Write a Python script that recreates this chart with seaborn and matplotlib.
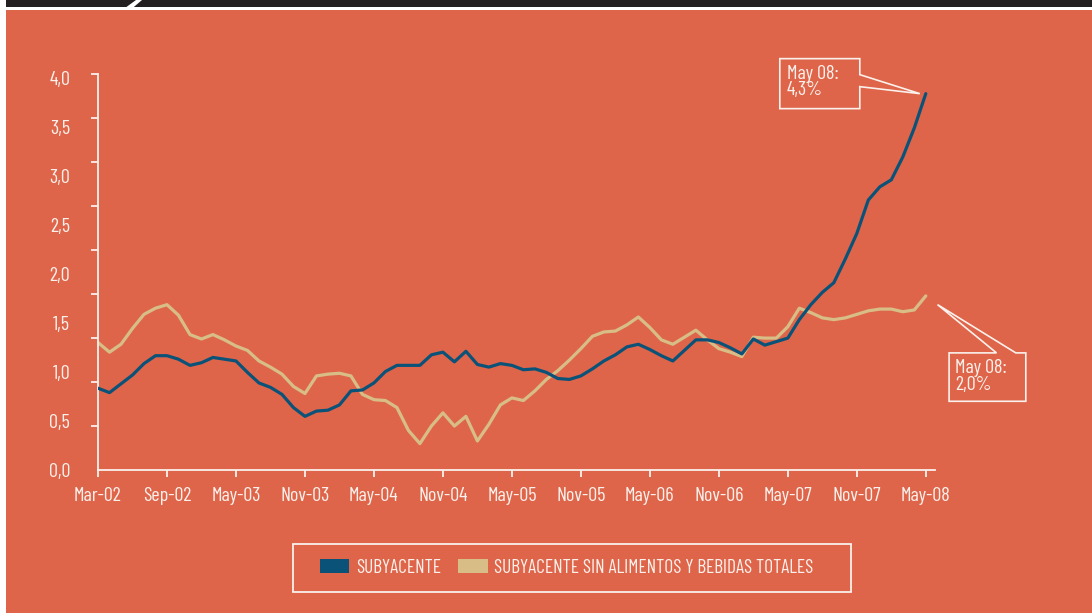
import numpy as np
import pandas as pd
import matplotlib
matplotlib.use("Agg")
import matplotlib.pyplot as plt
import matplotlib.patches as mpatches
import matplotlib.transforms as mtransforms
from matplotlib import font_manager
import seaborn as sns

# ---------------- DATOS (tasa anual %, mensual mar-02 .. may-08) ---------------- #

subyacente = [
    0.93, 0.88, 0.98, 1.08, 1.21, 1.30, 1.30, 1.26, 1.19, 1.22,
    1.28, 1.26, 1.24, 1.11, 0.99, 0.94, 0.86, 0.71, 0.61, 0.67,
    0.68, 0.74, 0.90, 0.91, 0.99, 1.12, 1.19, 1.19, 1.19, 1.31,
    1.34, 1.23, 1.35, 1.20, 1.17, 1.21, 1.19, 1.14, 1.15, 1.11,
    1.04, 1.03, 1.07, 1.15, 1.24, 1.31, 1.40, 1.43, 1.37, 1.30,
    1.24, 1.36, 1.48, 1.48, 1.45, 1.39, 1.32, 1.49, 1.42, 1.46,
    1.50, 1.71, 1.88, 2.02, 2.13, 2.40, 2.69, 3.07, 3.22, 3.30,
    3.56, 3.89, 4.28,
]
subyacente_sin_alim = [
    1.45, 1.34, 1.43, 1.61, 1.77, 1.84, 1.88, 1.76, 1.54, 1.49,
    1.54, 1.48, 1.41, 1.36, 1.24, 1.17, 1.09, 0.95, 0.87, 1.07,
    1.09, 1.10, 1.07, 0.86, 0.80, 0.79, 0.71, 0.45, 0.30, 0.50,
    0.65, 0.50, 0.61, 0.33, 0.52, 0.74, 0.82, 0.79, 0.90, 1.03,
    1.13, 1.25, 1.38, 1.52, 1.57, 1.58, 1.65, 1.74, 1.62, 1.48,
    1.43, 1.51, 1.59, 1.48, 1.38, 1.34, 1.29, 1.51, 1.50, 1.50,
    1.63, 1.84, 1.79, 1.73, 1.71, 1.73, 1.77, 1.81, 1.83, 1.83,
    1.80, 1.82, 1.98,
]
series = ["SUBYACENTE", "SUBYACENTE SIN ALIMENTOS Y BEBIDAS TOTALES"]
etiquetas_x = ["Mar-02", "Sep-02", "May-03", "Nov-03", "May-04", "Nov-04", "May-05",
               "Nov-05", "May-06", "Nov-06", "May-07", "Nov-07", "May-08"]
etiquetas_y = ["0,0", "0,5", "1,0", "1,5", "2,0", "2,5", "3,0", "3,5", "4,0"]
texto_fin = ["May 08:\n4,3%", "May 08:\n2,0%"]

# ---------------- ESTILO ---------------- #

NARANJA = "#DE654A"
AZUL = "#0B5279"
ARENA = "#D8BE86"
BLANCO = "#FBF1EC"
NEGRO = "#231F20"

sns.set_theme(style="ticks")
disponibles = {f.name for f in font_manager.fontManager.ttflist}
estrecha = next((n for n in ["Barlow Condensed", "Barlow Semi Condensed", "Archivo Narrow",
                             "Liberation Sans Narrow"] if n in disponibles), None)
if estrecha:
    plt.rcParams["font.family"] = [estrecha, "DejaVu Sans"]
else:
    plt.rcParams["font.family"] = ["DejaVu Sans"]
    plt.rcParams["font.stretch"] = "condensed"

mes = np.arange(len(subyacente))
df = pd.DataFrame({
    "mes": np.concatenate([mes, mes]),
    "valor": subyacente + subyacente_sin_alim,
    "serie": [series[0]] * len(mes) + [series[1]] * len(mes),
})

fig = plt.figure(figsize=(10.92, 6.13), dpi=100, facecolor="white")

# fondo naranja y franja superior
fig.patches.append(mpatches.Rectangle((6 / 1092, 0), 1, 1 - 10 / 613,
                                      transform=fig.transFigure, fc=NARANJA, ec="none", zorder=-3))
fig.patches.append(mpatches.Rectangle((6 / 1092, 1 - 7.3 / 613), 1, 7.3 / 613,
                                      transform=fig.transFigure, fc=NEGRO, ec="none", zorder=-2))
fig.patches.append(mpatches.Polygon([(126 / 1092, 1 - 7.3 / 613), (133.5 / 1092, 1 - 7.3 / 613),
                                     (142 / 1092, 1.0), (136 / 1092, 1.0)],
                                    transform=fig.transFigure, fc="white", ec="none", zorder=-1))

ax = fig.add_axes([98 / 1092, 1 - 470 / 613, (935 - 98) / 1092, (470 - 74.3) / 613])
ax.set_zorder(2)
ax.patch.set_alpha(0)

sns.lineplot(data=df, x="mes", y="valor", hue="serie", hue_order=series,
             palette=[AZUL, ARENA], linewidth=2.3, ax=ax, legend=False)
# la serie clara va por debajo
ax.lines[0].set_zorder(3)
ax.lines[1].set_zorder(2)

ax.set_xlim(0, 72.8)
ax.set_ylim(0, 4.5)
ax.set_xlabel("")
ax.set_ylabel("")

for side in ["top", "right"]:
    ax.spines[side].set_visible(False)
for side in ["left", "bottom"]:
    ax.spines[side].set_color(BLANCO)
    ax.spines[side].set_linewidth(1.3)

ax.set_xticks(np.arange(0, 73, 6))
ax.set_xticklabels(etiquetas_x)
ax.tick_params(axis="x", colors=BLANCO, labelcolor=BLANCO, length=5, width=1.3,
               direction="out", labelsize=14.5, pad=7)

# marcas cada 0,5 y rótulos repartidos como en el original
ax.set_yticks(np.arange(0, 4.51, 0.5), minor=True)
ax.set_yticks(np.linspace(0, 4.46, len(etiquetas_y)))
ax.set_yticklabels(etiquetas_y)
ax.tick_params(axis="y", which="major", length=0, labelcolor=BLANCO, labelsize=14.5, pad=20)
ax.tick_params(axis="y", which="minor", length=5, width=1.3, colors=BLANCO, direction="out")


def callout(ax, x, y, texto, contorno, pos_texto):
    # contorno en píxeles relativo al último punto de la serie (y hacia arriba)
    trans = (mtransforms.Affine2D().scale(ax.figure.dpi / 100)
             + mtransforms.ScaledTranslation(x, y, ax.transData))
    ax.add_patch(mpatches.Polygon(contorno, closed=True, transform=trans, fill=False,
                                  ec=BLANCO, lw=1.2, clip_on=False, zorder=5))
    ax.text(pos_texto[0], pos_texto[1], texto, transform=trans, ha="left", va="top",
            color=BLANCO, fontsize=14.5, linespacing=0.9, clip_on=False, zorder=5)


callout(ax, mes[-1], subyacente[-1], texto_fin[0],
        [(-6, 0), (-66, 7), (-66, -15), (-146, -15), (-146, 35), (-66, 35), (-66, 19)],
        (-139, 29))
callout(ax, mes[-1], subyacente_sin_alim[-1], texto_fin[1],
        [(11.7, -8.7), (70.7, -57), (23.3, -57), (23.3, -105.4), (100, -105.4),
         (100, -57), (90, -57)],
        (29.3, -63.5))

# leyenda con recuadro
fig.patches.append(mpatches.Rectangle((293 / 1092, 1 - 592 / 613), 558 / 1092, 48 / 613,
                                      transform=fig.transFigure, fill=False, ec=BLANCO,
                                      lw=1.3, zorder=3))
handles = [mpatches.Patch(fc=AZUL, ec="none"), mpatches.Patch(fc=ARENA, ec="none")]
leg = fig.legend(handles, series, loc="center", bbox_to_anchor=(0.519, 1 - 568 / 613),
                 ncol=2, frameon=False, fontsize=14, handlelength=1.5, handleheight=0.75,
                 handletextpad=0.35, columnspacing=0.9)
for t in leg.get_texts():
    t.set_color(BLANCO)

fig.savefig("out.png", dpi=100, facecolor=fig.get_facecolor())
